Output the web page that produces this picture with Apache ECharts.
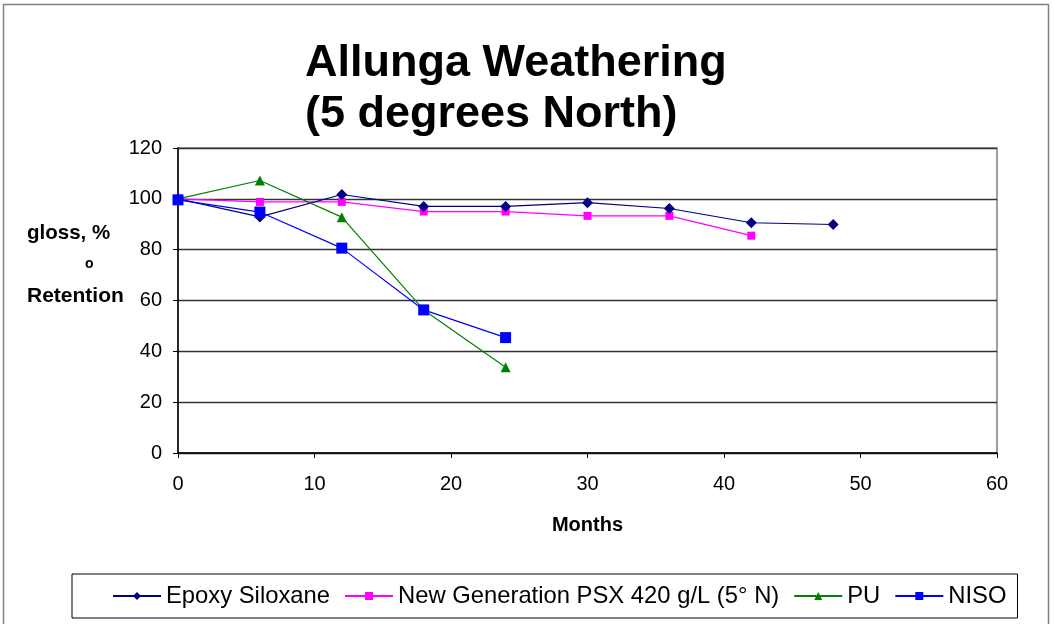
<!DOCTYPE html>
<html>
<head>
<meta charset="utf-8">
<script src="https://cdn.jsdelivr.net/npm/echarts@6/dist/echarts.min.js"></script>
<style>
  html, body { margin: 0; padding: 0; background: #fff; }
  #chart { width: 1054px; height: 624px; }
</style>
</head>
<body>
<div id="chart"></div>
<script>
// months of exposure
var months = [0, 6, 12, 18, 24, 30, 36, 42, 48]
var epoxySiloxane = [100, 92.9, 101.7, 97, 97, 98.5, 96.2, 90.6, 89.9]
var psx420 = [100, 98.8, 98.8, 95, 95, 93.3, 93.3, 85.5]
var pu = [100, 107.2, 92.8, 56.3, 33.7]
var niso = [99.6, 94.8, 80.6, 56.3, 45.4]
var yTicks = [0, 20, 40, 60, 80, 100, 120]
var xTicks = [0, 10, 20, 30, 40, 50, 60]

function pairs (ys) {
  var out = []
  for (var i = 0; i < ys.length; i++) {
    out.push([months[i], ys[i]])
  }
  return out
}

var font = 'Liberation Sans, Arial, sans-serif'
var myChart = echarts.init(document.getElementById('chart'))

myChart.setOption({
  animation: false,
  backgroundColor: '#fff',
  textStyle: { fontFamily: font },
  title: {
    text: 'Allunga Weathering\n(5 degrees North)',
    left: 300,
    top: 33,
    textStyle: { fontSize: 45, fontWeight: 'bold', color: '#000', lineHeight: 51, fontFamily: font }
  },
  graphic: [
    {
      type: 'rect',
      shape: { x: 3.5, y: 4.5, width: 1045, height: 640 },
      style: { fill: 'none', stroke: '#808080', lineWidth: 1.5 },
      silent: true
    },
    {
      type: 'text', left: 27, top: 223,
      style: { text: 'gloss, %', font: 'bold 20.5px ' + font, fill: '#000' }
    },
    {
      type: 'text', left: 85, top: 257,
      style: { text: 'o', font: 'bold 14px ' + font, fill: '#000' }
    },
    {
      type: 'text', left: 27, top: 286,
      style: { text: 'Retention', font: 'bold 21px ' + font, fill: '#000' }
    }
  ],
  legend: {
    left: 72,
    top: 574,
    height: 44,
    padding: [10, 11, 10, 40],
    borderColor: '#000',
    borderWidth: 1,
    itemWidth: 48,
    itemHeight: 10,
    itemGap: 14,
    textStyle: { fontSize: 23.8, color: '#000', fontFamily: font },
    data: ['Epoxy Siloxane', 'New Generation PSX 420 g/L (5° N)', 'PU', 'NISO']
  },
  grid: {
    left: 178,
    right: 57,
    top: 148,
    bottom: 171,
    show: true,
    borderColor: '#808080',
    borderWidth: 1.5
  },
  xAxis: {
    type: 'value',
    min: 0,
    max: 60,
    interval: 10,
    name: 'Months',
    nameLocation: 'middle',
    nameGap: 62,
    nameTextStyle: { fontSize: 20, fontWeight: 'bold', color: '#000' },
    axisLine: { lineStyle: { color: '#000', width: 1.5 } },
    axisTick: { show: true, length: 5, lineStyle: { color: '#000' } },
    axisLabel: { fontSize: 20, color: '#000', margin: 21,
      formatter: function (v) { return xTicks.indexOf(v) >= 0 ? String(v) : '' } },
    splitLine: { show: false }
  },
  yAxis: {
    type: 'value',
    min: 0,
    max: 120,
    interval: 20,
    axisLine: { show: true, lineStyle: { color: '#000', width: 1.5 } },
    axisTick: { show: true, length: 5, lineStyle: { color: '#000' } },
    axisLabel: { fontSize: 20, color: '#000', margin: 16,
      formatter: function (v) { return yTicks.indexOf(v) >= 0 ? String(v) : '' } },
    splitLine: { show: true, lineStyle: { color: '#333', width: 1.3 } }
  },
  series: [
    {
      name: 'Epoxy Siloxane',
      type: 'line',
      data: pairs(epoxySiloxane),
      symbol: 'diamond',
      symbolSize: 11,
      itemStyle: { color: '#000080' },
      lineStyle: { color: '#000080', width: 1.2 },
      z: 4
    },
    {
      name: 'New Generation PSX 420 g/L (5° N)',
      type: 'line',
      data: pairs(psx420),
      symbol: 'rect',
      symbolSize: 8,
      itemStyle: { color: '#ff00ff' },
      lineStyle: { color: '#ff00ff', width: 1.2 },
      z: 3
    },
    {
      name: 'PU',
      type: 'line',
      data: pairs(pu),
      symbol: 'triangle',
      symbolSize: 10,
      itemStyle: { color: '#008000' },
      lineStyle: { color: '#008000', width: 1.2 },
      z: 5
    },
    {
      name: 'NISO',
      type: 'line',
      data: pairs(niso),
      symbol: 'rect',
      symbolSize: 11,
      itemStyle: { color: '#0000ff' },
      lineStyle: { color: '#0000ff', width: 1.2 },
      z: 6
    }
  ]
})
</script>
</body>
</html>
